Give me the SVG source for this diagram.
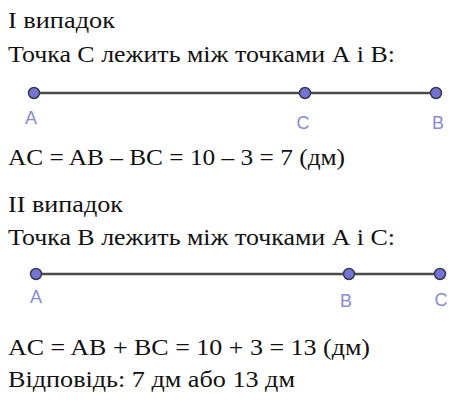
<svg xmlns="http://www.w3.org/2000/svg" width="458" height="405" viewBox="0 0 458 405">
<rect width="458" height="405" fill="#fff"/>
<g id="texts" fill="#111" font-family="'Times New Roman', serif" font-size="23">
<text x="8" y="28" textLength="107" lengthAdjust="spacingAndGlyphs">І випадок</text>
<text x="8" y="62" textLength="387" lengthAdjust="spacingAndGlyphs">Точка С лежить між точками А і В:</text>
<text x="8" y="165" textLength="337" lengthAdjust="spacingAndGlyphs">AC = AB – BC = 10 – 3 = 7 (дм)</text>
<text x="8" y="212" textLength="115" lengthAdjust="spacingAndGlyphs">ІІ випадок</text>
<text x="8" y="245" textLength="387" lengthAdjust="spacingAndGlyphs">Точка В лежить між точками А і С:</text>
<text x="8" y="355" textLength="362" lengthAdjust="spacingAndGlyphs">AC = AB + BC = 10 + 3 = 13 (дм)</text>
<text x="8" y="387" textLength="287" lengthAdjust="spacingAndGlyphs">Відповідь: 7 дм або 13 дм</text>
</g>
<g id="connectors" stroke="#4a4a4a" stroke-width="2.5">
<line x1="34" y1="93" x2="436" y2="93"/>
<line x1="36" y1="274" x2="440" y2="274"/>
</g>
<g id="points" text-anchor="middle" font-family="Arial, sans-serif" font-size="18">
<g fill="#7474d6" stroke="#3a3a4a" stroke-width="1.5">
<circle id="p1A" cx="34" cy="93" r="5.5"/>
<circle id="p1C" cx="305" cy="93" r="5.5"/>
<circle id="p1B" cx="436" cy="93" r="5.5"/>
<circle id="p2A" cx="36" cy="274" r="5.5"/>
<circle id="p2B" cx="349" cy="274" r="5.5"/>
<circle id="p2C" cx="440" cy="274" r="5.5"/>
</g>
<g fill="#8a8ad2">
<text x="31" y="124">A</text>
<text x="303" y="129">C</text>
<text x="438" y="129">B</text>
<text x="36" y="303">A</text>
<text x="346" y="307">B</text>
<text x="441" y="306">C</text>
</g>
</g>
</svg>
